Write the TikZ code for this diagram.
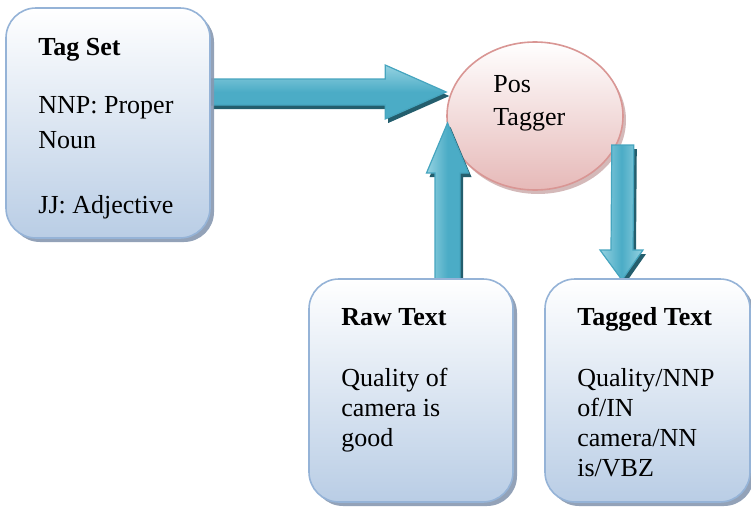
\documentclass[tikz,border=0pt]{standalone}
\usepackage{fontspec}
\setmainfont{Liberation Serif}
\usetikzlibrary{calc,shadows,shapes.geometric}

\definecolor{boxline}{HTML}{95B3D7}
\definecolor{boxbottom}{HTML}{B9CDE5}
\definecolor{boxshadow}{HTML}{8798B0}
\definecolor{ovalline}{HTML}{D99694}
\definecolor{ovalbottom}{HTML}{E6B9B8}
\definecolor{ovalshadow}{HTML}{C9A8A8}
\definecolor{arrowmid}{HTML}{4BACC6}
\definecolor{arrowlight}{HTML}{95D2E1}
\definecolor{arrowline}{HTML}{46A5BF}
\definecolor{arrowshadow}{HTML}{245E6D}

\tikzset{
  box/.style={rectangle, rounded corners=15pt, draw=boxline, line width=0.8pt,
    top color=white, bottom color=boxbottom, inner sep=0pt,
    drop shadow={shadow xshift=2pt, shadow yshift=-2pt, fill=boxshadow, opacity=0.9}},
  oval/.style={ellipse, draw=ovalline, line width=0.8pt, top color=white,
    bottom color=ovalbottom, inner sep=0pt, minimum width=88pt, minimum height=74pt,
    drop shadow={shadow xshift=1.5pt, shadow yshift=-2pt, fill=ovalshadow, opacity=0.8}},
  txt/.style={anchor=base west, align=left, inner sep=0pt},
  blockarrow/.style={draw=arrowline, line width=0.6pt, line join=miter,
    drop shadow={shadow xshift=1.5pt, shadow yshift=-2pt, fill=arrowshadow, opacity=1}},
}

\begin{document}
\begin{tikzpicture}[x=0.5pt, y=-0.5pt]
    \useasboundingbox (0,0) rectangle (751,509);
    % tagger in the middle
    \node[oval] (pos) at (535,116) {};
    \node[txt, font=\fontsize{13}{16.5}\selectfont] (postext) at (493,125) {Pos\\Tagger};

    % end points of the arrows
    \coordinate (s1) at (210,92);
    \coordinate (e1) at (pos.west |- s1);
    \coordinate (s2) at (447.5,279);
    \coordinate (e2) at ($(pos.west -| s2)+(0,7)$);
    \coordinate (s3) at ($(pos.east)+(-1,29)$);
    \coordinate (e3) at (622,280);

    \draw[blockarrow, top color=arrowlight, bottom color=arrowmid, middle color=arrowmid]
        ($(s1)+(0,-13)$) -- ($(e1)+(-61,-13)$) -- ($(e1)+(-61,-27)$) -- (e1)
        -- ($(e1)+(-61,27)$) -- ($(e1)+(-61,13)$) -- ($(s1)+(0,13)$) -- cycle;
    \draw[blockarrow, left color=arrowlight, right color=arrowmid, middle color=arrowmid]
        ($(s2)+(-12.5,0)$) -- ($(e2)+(-12.5,50)$) -- ($(e2)+(-21,50)$) -- (e2)
        -- ($(e2)+(21,50)$) -- ($(e2)+(12.5,50)$) -- ($(s2)+(12.5,0)$) -- cycle;
    \draw[blockarrow, left color=arrowlight, right color=arrowlight, middle color=arrowmid]
        ($(s3)+(-11,0)$) -- ($(e3)+(-11,-30)$) -- ($(e3)+(-22,-30)$) -- (e3)
        -- ($(e3)+(21,-30)$) -- ($(e3)+(11,-30)$) -- ($(s3)+(11,0)$) -- cycle;

    % the three boxes
    \node[box, minimum width=102pt, minimum height=115pt] (tagset) at (108,123) {};
    \node[box, minimum width=102pt, minimum height=111.5pt] (raw) at (411,390.5) {};
    \node[box, minimum width=102.5pt, minimum height=111.5pt] (tagged) at (647.5,390.5) {};

    \node[txt, font=\fontsize{13}{17.5}\selectfont] (tagsettext) at (38,213)
        {\textbf{Tag Set}\\[11.5pt]NNP: Proper\\Noun\\[15pt]JJ: Adjective};
    \node[txt, font=\fontsize{13}{15}\selectfont] (rawtext) at (341,446)
        {\textbf{Raw Text}\\[15.5pt]Quality of\\camera is\\good};
    \node[txt, font=\fontsize{13}{15}\selectfont] (taggedtext) at (577,476)
        {\textbf{Tagged Text}\\[15.5pt]Quality/NNP\\of/IN\\camera/NN\\is/VBZ};
\end{tikzpicture}
\end{document}
